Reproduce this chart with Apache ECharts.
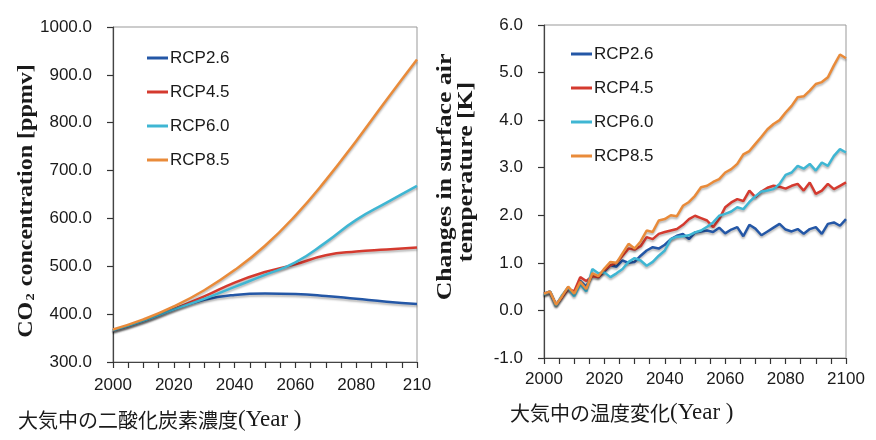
<!DOCTYPE html>
<html>
<head>
<meta charset="utf-8">
<script src="https://cdn.jsdelivr.net/npm/echarts@6/dist/echarts.min.js"></script>
<style>
  html, body { margin: 0; padding: 0; background: #fff; }
  #main { width: 876px; height: 440px; }
</style>
</head>
<body>
<div id="main"></div>
<script>
// CO2 concentration (ppmv), every 10 years
var co2Years = [2000, 2010, 2020, 2030, 2040, 2050, 2060, 2070, 2080, 2090, 2100];
var co2Rcp26 = [366, 386, 410, 430, 440, 443, 442, 438, 432, 426, 421];
var co2Rcp45 = [366, 386, 411, 437, 466, 488, 504, 523, 531, 535, 539];
var co2Rcp60 = [366, 386, 410, 432, 457, 482, 508, 550, 597, 633, 668];
var co2Rcp85 = [368, 389, 416, 450, 492, 543, 606, 680, 762, 848, 932];

// surface air temperature change (K), every 2 years
var tempYears = [];
for (var y = 2000; y <= 2100; y += 2) tempYears.push(y);
var tRcp26 = [0.35, 0.40, 0.12, 0.30, 0.48, 0.36, 0.62, 0.50, 0.75, 0.70,
              0.82, 0.95, 0.92, 1.05, 1.00, 1.02, 1.15, 1.26, 1.33, 1.30,
              1.38, 1.50, 1.57, 1.61, 1.50, 1.64, 1.66, 1.68, 1.65, 1.74,
              1.62, 1.70, 1.75, 1.56, 1.80, 1.72, 1.58, 1.66, 1.74, 1.82,
              1.70, 1.66, 1.71, 1.61, 1.71, 1.75, 1.61, 1.82, 1.85, 1.78, 1.92];
var tRcp45 = [0.35, 0.38, 0.12, 0.28, 0.45, 0.40, 0.70, 0.62, 0.72, 0.70,
              0.85, 0.95, 1.00, 1.15, 1.30, 1.28, 1.35, 1.54, 1.50, 1.61,
              1.65, 1.68, 1.71, 1.80, 1.92, 1.99, 1.94, 1.89, 1.75, 1.92,
              2.17, 2.27, 2.34, 2.30, 2.52, 2.38, 2.50, 2.58, 2.62, 2.60,
              2.56, 2.62, 2.66, 2.52, 2.69, 2.45, 2.52, 2.66, 2.55, 2.62, 2.69];
var tRcp60 = [0.33, 0.40, 0.10, 0.32, 0.48, 0.30, 0.55, 0.40, 0.87, 0.78,
              0.80, 0.70, 0.78, 0.87, 1.02, 1.10, 1.05, 0.94, 1.02, 1.15,
              1.26, 1.50, 1.55, 1.56, 1.58, 1.64, 1.68, 1.76, 1.85, 1.99,
              2.03, 2.08, 2.17, 2.13, 2.28, 2.40, 2.50, 2.52, 2.55, 2.66,
              2.85, 2.90, 3.04, 2.98, 3.08, 2.94, 3.11, 3.04, 3.25, 3.39, 3.32];
var tRcp85 = [0.35, 0.40, 0.12, 0.30, 0.50, 0.35, 0.60, 0.45, 0.78, 0.72,
              0.88, 1.02, 1.00, 1.20, 1.40, 1.30, 1.45, 1.68, 1.65, 1.89,
              1.92, 2.00, 1.98, 2.20, 2.28, 2.41, 2.59, 2.62, 2.70, 2.76,
              2.90, 2.97, 3.08, 3.28, 3.35, 3.50, 3.65, 3.81, 3.92, 4.00,
              4.16, 4.30, 4.48, 4.50, 4.62, 4.76, 4.80, 4.90, 5.15, 5.38, 5.30];

var names = ['RCP2.6', 'RCP4.5', 'RCP6.0', 'RCP8.5'];
var colors = ['#2457a6', '#d43a2f', '#3fb6d3', '#e98b3a'];

function pairs(xs, ys) {
    return xs.map(function (x, i) { return [x, ys[i]]; });
}

var chart = echarts.init(document.getElementById('main'));

function labelFont(extra) {
    return Object.assign({ fontFamily: 'Liberation Sans', fontSize: 17, color: '#1a1a1a' }, extra);
}
function axisLine() {
    return { show: true, onZero: false, lineStyle: { color: '#444', width: 1.2 } };
}
function tick() {
    return { show: true, length: 6, lineStyle: { color: '#333', width: 1.2 } };
}
function minor() {
    return { show: true, splitNumber: 4, length: 6, lineStyle: { color: '#333', width: 1.2 } };
}

function series(name, i, grid, data, smooth) {
    return {
        name: name,
        type: 'line',
        xAxisIndex: grid,
        yAxisIndex: grid,
        data: data,
        smooth: smooth,
        symbol: 'none',
        color: colors[i],
        lineStyle: {
            width: 2.5,
            color: colors[i],
            shadowColor: 'rgba(0,0,0,0.28)',
            shadowBlur: 2,
            shadowOffsetY: 2
        }
    };
}

var co2Sets = [co2Rcp26, co2Rcp45, co2Rcp60, co2Rcp85];
var tSets = [tRcp26, tRcp45, tRcp60, tRcp85];
var allSeries = [];
names.forEach(function (n, i) {
    allSeries.push(series(n, i, 0, pairs(co2Years, co2Sets[i]), true));
});
names.forEach(function (n, i) {
    allSeries.push(series(n, i, 1, pairs(tempYears, tSets[i]), false));
});

var legendBase = {
    orient: 'vertical',
    icon: 'rect',
    itemWidth: 21,
    itemHeight: 3,
    itemGap: 14,
    textStyle: { fontFamily: 'Liberation Sans', fontSize: 17, color: '#1a1a1a', lineHeight: 20, padding: [0, 0, 0, -3] },
    data: names
};

var option = {
    animation: false,
    backgroundColor: '#fff',
    legend: [
        Object.assign({}, legendBase, { left: 142, top: 43 }),
        Object.assign({}, legendBase, { left: 566, top: 39 })
    ],
    grid: [
        { left: 113, top: 27, width: 304, height: 335, show: true, borderColor: '#999', borderWidth: 1 },
        { left: 544, top: 25, width: 302, height: 333, show: true, borderColor: '#999', borderWidth: 1 }
    ],
    xAxis: [
        {
            type: 'value', gridIndex: 0, min: 2000, max: 2100, interval: 20,
            axisLine: axisLine(),
            axisTick: tick(),
            minorTick: minor(),
            splitLine: { show: false },
            axisLabel: labelFont({ margin: 15, formatter: function (v) { return v === 2100 ? '210' : String(v); } })
        },
        {
            type: 'value', gridIndex: 1, min: 2000, max: 2100, interval: 20,
            axisLine: axisLine(),
            axisTick: tick(),
            minorTick: minor(),
            splitLine: { show: false },
            axisLabel: labelFont({ margin: 13, formatter: function (v) { return String(v); } })
        }
    ],
    yAxis: [
        {
            type: 'value', gridIndex: 0, min: 300, max: 1000, interval: 100,
            axisLine: axisLine(),
            axisTick: tick(),
            splitLine: { show: false },
            axisLabel: labelFont({ margin: 21, formatter: function (v) { return v.toFixed(1); } })
        },
        {
            type: 'value', gridIndex: 1, min: -1, max: 6, interval: 1,
            axisLine: axisLine(),
            axisTick: tick(),
            splitLine: { show: false },
            axisLabel: labelFont({ margin: 21, formatter: function (v) { return v.toFixed(1); } })
        }
    ],
    graphic: [
        {
            type: 'text', x: 27, y: 201, rotation: Math.PI / 2, scaleX: 1.2,
            style: {
                text: '{a|CO}{s|2}{a| concentration [ppmv]}',
                textAlign: 'center', textVerticalAlign: 'middle',
                rich: {
                    a: { fontFamily: 'Liberation Serif', fontWeight: 'bold', fontSize: 20, fill: '#1a1a1a' },
                    s: { fontFamily: 'Liberation Serif', fontWeight: 'bold', fontSize: 12, fill: '#1a1a1a', padding: [8, 1, 0, 1] }
                }
            }
        },
        {
            type: 'text', x: 445, y: 177, rotation: Math.PI / 2, scaleX: 1.17,
            style: {
                text: 'Changes in surface air', textAlign: 'center', textVerticalAlign: 'middle',
                font: 'bold 22px "Liberation Serif"', fill: '#1a1a1a'
            }
        },
        {
            type: 'text', x: 466, y: 172, rotation: Math.PI / 2, scaleX: 1.17,
            style: {
                text: 'temperature [K]', textAlign: 'center', textVerticalAlign: 'middle',
                font: 'bold 22px "Liberation Serif"', fill: '#1a1a1a'
            }
        },
        {
            type: 'text', x: 18, y: 420,
            style: {
                text: '{j|大気中の二酸化炭素濃度}{e|(Year )}',
                textVerticalAlign: 'middle',
                rich: {
                    j: { fontFamily: 'Noto Sans CJK JP', fontSize: 20, fill: '#1a1a1a' },
                    e: { fontFamily: 'Liberation Serif', fontSize: 23, fill: '#1a1a1a' }
                }
            }
        },
        {
            type: 'text', x: 510, y: 413,
            style: {
                text: '{j|大気中の温度変化}{e|(Year )}',
                textVerticalAlign: 'middle',
                rich: {
                    j: { fontFamily: 'Noto Sans CJK JP', fontSize: 20, fill: '#1a1a1a' },
                    e: { fontFamily: 'Liberation Serif', fontSize: 23, fill: '#1a1a1a' }
                }
            }
        }
    ],
    series: allSeries
};

chart.setOption(option);
</script>
</body>
</html>
